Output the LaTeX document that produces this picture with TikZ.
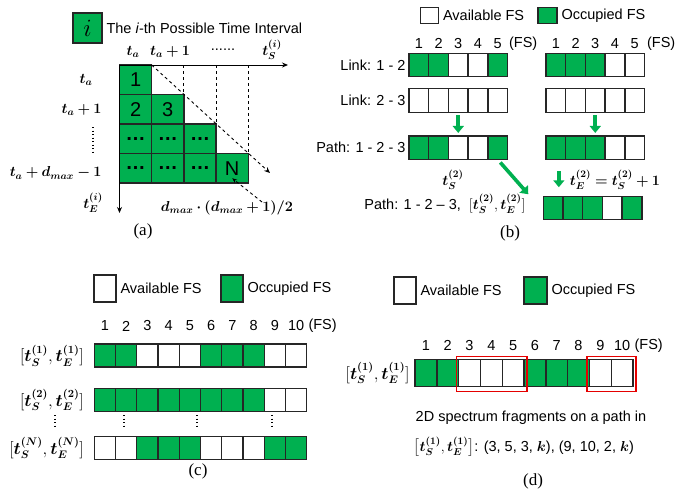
\documentclass[tikz,border=0pt]{standalone}
\usepackage{amsmath}
\usepackage{bm}
\usepackage[no-math]{fontspec}
\setmainfont{Liberation Sans}
\newfontfamily\capfont{Liberation Serif}
\usetikzlibrary{calc,arrows.meta,positioning}
\definecolor{fsgreen}{RGB}{0,176,80}

\begin{document}
\begin{tikzpicture}[
	x=1pt, y=-1pt,
	font=\fontsize{14.5}{17}\selectfont,
	slot/.style={draw=black!85, line width=1.4pt, inner sep=0pt, outer sep=0pt},
	slot0/.style={slot, fill=white},
	slot1/.style={slot, fill=fsgreen},
	num/.style={inner sep=1pt},
	cellnum/.style={font=\fontsize{20}{20}\selectfont},
	tlabel/.style={font=\fontsize{16}{18}\selectfont},
	caption/.style={font=\capfont\fontsize{17}{20}\selectfont},
	axis/.style={line width=0.9pt, -{Stealth[length=6pt,width=5pt]}},
	guide/.style={dashed, line width=0.9pt},
	flow/.style={fsgreen, line width=3.6pt, -{Triangle[length=7pt,width=11pt]}, shorten <=3pt, shorten >=3pt},
	frag/.style={red!90!black, line width=1.3pt},
	vdots/.style={line width=1.3pt, dash pattern=on 1.3pt off 2.2pt},
]

\useasboundingbox (0,0) rectangle (695,493);

% ---------- (a) possible time intervals ----------
\pgfmathsetmacro{\aw}{32.2}
\pgfmathsetmacro{\ah}{29.5}
\coordinate (aO) at (119.5,65);

% legend
\node[slot1, minimum width=29, minimum height=30, font=\fontsize{24}{24}\selectfont] (aKey) at (87.5,28) {$i$};
\node[right=1pt of aKey] (aKeyTxt) {The \textit{i}-th Possible Time Interval};

% staircase of intervals
\foreach \r/\c/\t in {1/1/1, 2/1/2, 2/2/3, 3/1/\textbf{\dots}, 3/2/\textbf{\dots}, 3/3/\textbf{\dots},
	4/1/\textbf{\dots}, 4/2/\textbf{\dots}, 4/3/\textbf{\dots}, 4/4/N} {
	\node[slot1, cellnum, minimum width=\aw, minimum height=\ah] (a\r\c) at ({119.5+(\c-0.5)*\aw}, {65+(\r-0.5)*\ah}) {\t};
}

% axes and guides
\coordinate (aXend) at (288,65);
\coordinate (aYend) at (119.5,213);
\draw[axis] (aO) -- (aXend);
\draw[axis] (aO) -- (aYend);
\foreach \k in {2,3,4} {
	\draw[guide] (a\k\k.north east |- aO) -- (a\k\k.north east);
}
\coordinate (aDiagEnd) at (270,173);
\draw[guide, -{Stealth[length=6pt,width=5pt]}] (a11.north east) -- (aDiagEnd);

% start / end labels
\node (aHa) at (133,52) {$\bm{t_a}$};
\node (aHb) at (170,52) {$\bm{t_a+1}$};
\node (aHc) at (223,50) {......};
\node (aHs) at (272,50) {$\bm{t_S^{(i)}}$};
\node (aRa) at (86,80) {$\bm{t_a}$};
\node[anchor=east] (aRb) at (105,110) {$\bm{t_a+1}$};
\draw[vdots] (93,127) -- (93,153);
\node[anchor=east] (aRd) at (105,173) {$\bm{t_a+d_{max}-1}$};
\node (aRe) at (93,203) {$\bm{t_E^{(i)}}$};

% number of intervals
\node (aCount) at (227,208) {$\bm{d_{max}\cdot(d_{max}+1)/2}$};
\coordinate (aCntTail) at (262,202);
\draw[guide, -{Stealth[length=5pt,width=4pt]}] (aCntTail) -- ($(a44.center)+(0,10)$);

\node[caption] (aCap) at (143,231) {(a)};

% ---------- (b) spectrum of a path ----------
\pgfmathsetmacro{\bw}{19.7}
\pgfmathsetmacro{\bh}{23.5}

% legend
\node[slot0, minimum width=18, minimum height=16] (bKeyA) at (429.5,15.3) {};
\node[right=1pt of bKeyA] (bKeyATxt) {Available FS};
\node[slot1, minimum width=19, minimum height=16] (bKeyO) at (547.5,15.3) {};
\node[right=1pt of bKeyO] (bKeyOTxt) {Occupied FS};

% slot rows
\foreach \nm/\xo/\yc/\pat in {
	bL1/409/65/{1,1,0,0,1},
	bL2/409/100.5/{0,0,0,0,0},
	bLP/409/147.7/{1,1,0,0,1},
	bR1/546/65/{1,1,1,0,0},
	bR2/546/100.5/{0,0,0,0,0},
	bRP/546/147.7/{1,1,1,0,0},
	bO/543.3/208/{1,1,1,0,1}} {
	\foreach \s [count=\i] in \pat {
		\node[slot\s, minimum width=\bw, minimum height=\bh] (\nm s\i) at ({\xo+(\i-0.5)*\bw}, \yc) {};
	}
}

% slot indices
\foreach \i in {1,...,5} {
	\node[num] (bLn\i) at ($(bL1s\i.north)+(0,-10)$) {\i};
	\node[num] (bRn\i) at ($(bR1s\i.north)+(0,-10)$) {\i};
}
\node[num, right=5pt of bLn5] (bLfs) {(FS)};
\node[num, right=6pt of bRn5] (bRfs) {(FS)};

% row labels
\node[left=0pt of bL1s1] (bLab1) {Link: 1 - 2};
\node[left=0pt of bL2s1] (bLab2) {Link: 2 - 3};
\node[left=0pt of bLPs1] (bLab3) {Path: 1 - 2 - 3};

% merging arrows
\draw[flow] (bL2s3.south) -- (bLPs3.north);
\draw[flow] (bR2s3.south) -- (bRPs3.north);
\draw[flow, shorten <=12pt, shorten >=9pt] ($(bRPs1.south)+(3,0)$) -- ($(bRPs1.south |- bOs1.north)+(3,0)$);
\coordinate (bDiagTip) at ($(bOs1.north west)+(-15,-2)$);
\draw[flow, shorten <=4pt, shorten >=0pt] (bLPs5.south) -- (bDiagTip);

\node (bTs) at (453,180) {$\bm{t_S^{(2)}}$};
\node (bTe) at (615,180) {$\bm{t_E^{(2)}=t_S^{(2)}+1}$};
\node[anchor=east] (bPath) at (529,204) {Path: 1 - 2 – 3,\ \ $[\bm{t_S^{(2)}},\bm{t_E^{(2)}}]$};

\node[caption] (bCap) at (510,233) {(b)};

% ---------- (c) slots per time interval ----------
\pgfmathsetmacro{\cw}{21.24}
\pgfmathsetmacro{\ch}{23}

% legend
\node[slot0, minimum width=22, minimum height=27] (cKeyA) at (105,288.5) {};
\node[right=1pt of cKeyA] (cKeyATxt) {Available FS};
\node[slot1, minimum width=22, minimum height=27] (cKeyO) at (232,288.5) {};
\node[right=1pt of cKeyO] (cKeyOTxt) {Occupied FS};

\foreach \nm/\yc/\pat in {
	c1/355.5/{1,1,0,0,0,1,1,1,0,0},
	c2/400/{1,1,1,1,1,1,1,1,0,0},
	cN/448/{0,0,1,1,1,0,0,0,1,1}} {
	\foreach \s [count=\i] in \pat {
		\node[slot\s, minimum width=\cw, minimum height=\ch] (\nm s\i) at ({94.3+(\i-0.5)*\cw}, \yc) {};
	}
}
\foreach \i in {1,...,10} {
	\node[num] (cn\i) at ($(c1s\i.north)+(0,-18)$) {\i};
}
\node[num, right=2pt of cn10] (cfs) {(FS)};

\node[tlabel, left=7pt of c1s1] (cLab1) {$[\bm{t_S^{(1)}},\bm{t_E^{(1)}}]$};
\node[tlabel, left=7pt of c2s1] (cLab2) {$[\bm{t_S^{(2)}},\bm{t_E^{(2)}}]$};
\node[tlabel, left=7pt of cNs1] (cLabN) {$[\bm{t_S^{(N)}},\bm{t_E^{(N)}}]$};

% rows left out
\foreach \x in {55,124,197,272} {
	\draw[vdots] (\x,415) -- (\x,428);
}

\node[caption] (cCap) at (198,471) {(c)};

% ---------- (d) 2D spectrum fragments ----------
\pgfmathsetmacro{\dw}{21.8}
\pgfmathsetmacro{\dh}{27.5}

% legend
\node[slot0, minimum width=22, minimum height=27] (dKeyA) at (405,290.5) {};
\node[right=1pt of dKeyA] (dKeyATxt) {Available FS};
\node[slot1, minimum width=23, minimum height=27] (dKeyO) at (535.5,290.5) {};
\node[right=1pt of dKeyO] (dKeyOTxt) {Occupied FS};

\foreach \s [count=\i] in {1,1,0,0,0,1,1,1,0,0} {
	\node[slot\s, minimum width=\dw, minimum height=\dh] (d1s\i) at ({415+(\i-0.5)*\dw}, 373) {};
	\node[num] (dn\i) at ($(d1s\i.north)+(0,-14)$) {\i};
}
\node[num, right=2pt of dn10] (dfs) {(FS)};

\node[tlabel, left=2pt of d1s1] (dLab) {$[\bm{t_S^{(1)}},\bm{t_E^{(1)}}]$};

% fragments
\draw[frag] ($(d1s3.north west)+(-2,-2.5)$) rectangle ($(d1s5.south east)+(3,5)$);
\draw[frag] ($(d1s9.north west)+(-2.5,-2.5)$) rectangle ($(d1s10.south east)+(3,5)$);

\node[anchor=west, inner sep=0.5pt] (dNote1) at (415,417.5) {2D spectrum fragments on a path in};
\node[anchor=west, inner sep=0.5pt] (dNote2) at (413,446.5) {$\bigl[\bm{t_S^{(1)}},\bm{t_E^{(1)}}\bigr]$: (3, 5, 3, $\bm{k}$), (9, 10, 2, $\bm{k}$)};

\node[caption] (dCap) at (533,481) {(d)};

\end{tikzpicture}
\end{document}
